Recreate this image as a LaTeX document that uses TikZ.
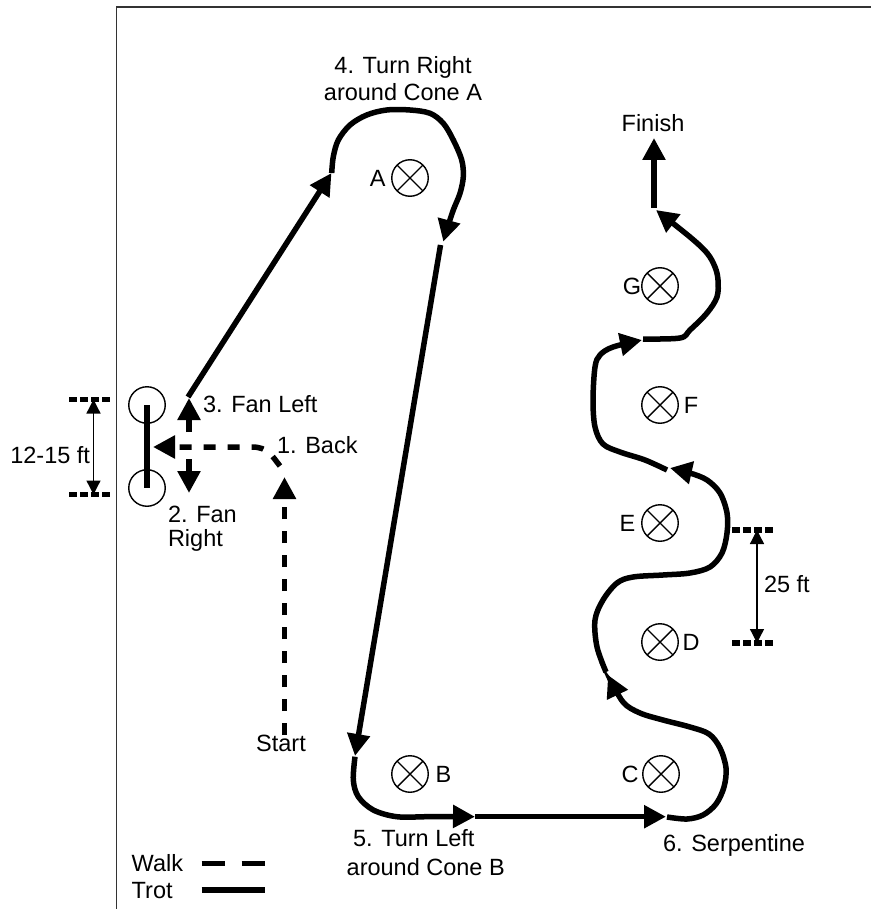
\documentclass[tikz,border=0pt]{standalone}
\usepackage{fontspec}
\setmainfont{Liberation Sans}
\usetikzlibrary{arrows.meta}
\begin{document}
\begin{tikzpicture}[x=1pt,y=-1pt,
  lbl/.style={font=\fontsize{23.5}{27}\selectfont, inner sep=0pt, outer sep=0pt},
  trot/.style={line width=5.5pt},
  walk/.style={line width=5.5pt, dash pattern=on 12pt off 12pt},
  tip/.style={-{Triangle[length=22pt,width=22pt]}},
  dots/.style={line width=5.5pt, dash pattern=on 7.5pt off 3.5pt},
  dim/.style={line width=1.3pt, {Triangle[length=14pt,width=14pt]}-{Triangle[length=14pt,width=14pt]}},
  cone/.style={circle, draw, line width=1.4pt, minimum size=36.5pt, inner sep=0pt,
    path picture={\draw[line width=1.4pt] (path picture bounding box.north west) -- (path picture bounding box.south east)
      (path picture bounding box.north east) -- (path picture bounding box.south west);}},
  pole/.style={circle, draw, line width=1.4pt, minimum size=36.5pt, inner sep=0pt}
]
\useasboundingbox (0,0) rectangle (871,909);
% border
\draw[line width=1.5pt, black!80] (116.5,909) -- (116.5,7) -- (871,7);

% cones
\node[cone] (A) at (410,178) {};
\node[cone] (B) at (410,774) {};
\node[cone] (C) at (661,774) {};
\node[cone] (D) at (660,642) {};
\node[cone] (E) at (660,523) {};
\node[cone] (F) at (660,405) {};
\node[cone] (G) at (660,286) {};
\node[lbl, anchor=base] (lA) at (377.7,186.5) {A};
\node[lbl, anchor=base] (lB) at (443.5,782.5) {B};
\node[lbl, anchor=base] (lC) at (630,782.5) {C};
\node[lbl, anchor=base] (lD) at (691,650.5) {D};
\node[lbl, anchor=base] (lE) at (627.5,531.5) {E};
\node[lbl, anchor=base] (lF) at (691,413.5) {F};
\node[lbl, anchor=base] (lG) at (632,294.5) {G};

% poles
\node[pole] (P1) at (147,405) {};
\node[pole] (P2) at (147,488) {};
\draw[line width=6pt] (P1.center) -- (P2.center);

% dimension 12-15 ft
\draw[dots] (69,399.5) -- (111.5,399.5);
\draw[dots] (69,494.5) -- (111.5,494.5);
\coordinate (d1t) at (93.5,399.5);
\coordinate (d1b) at (93.5,494.5);
\draw[dim] (d1t) -- (d1b);
\node[lbl, anchor=base east] (dim1) at (90,463) {12-15 ft};

% dimension 25 ft
\draw[dots] (732,530) -- (775,530);
\draw[dots] (732,643) -- (775,643);
\coordinate (d2t) at (757,530);
\coordinate (d2b) at (757,643);
\draw[dim] (d2t) -- (d2b);
\node[lbl, anchor=base west] (dim2) at (764,592) {25 ft};

% walk paths
\coordinate (start) at (284.5,735);
\coordinate (startend) at (284.5,477);
\draw[walk, tip] (start) -- (startend);
\draw[walk, tip] (280,466) .. controls (272,456) and (268,447) .. (252,447) -- (153,447);
\draw[walk, tip] (189,459) -- (189,493);
\draw[walk, tip] (189,432) -- (189,398);

% trot paths
\draw[trot, tip] (188,397) -- (331.5,173);
\draw[trot, tip] plot[smooth, tension=0.55] coordinates {(331.7,173) (333.3,156.7) (338.3,140) (350,125) (366.7,115) (386.7,110) (410,110) (430,113.3) (443.3,123.3) (453.3,140) (461.7,160) (463.3,176.7) (460,193.3) (453.3,210) (446.7,230) (443.3,241.7)};
\draw[trot, tip] (440.5,245) -- (355,756);
\draw[trot, tip] plot[smooth, tension=0.55] coordinates {(355,756.7) (353.3,780) (358.3,796.7) (373.3,810) (396.7,816.7) (426.7,816.7) (450,816.5) (475,816.7)};
\draw[trot, tip] (475,816.7) -- (666,816.7);
\draw[trot, tip] plot[smooth, tension=0.55] coordinates {(667,817) (687,819) (703,815) (716,804) (724,787) (726,768) (720,748) (709,734) (690,727) (663,720) (640,713) (623,702) (608,675)};
\draw[trot, tip] plot[smooth, tension=0.55] coordinates {(606,672) (597,647) (595,620) (603,600) (617,583) (633,577) (663,575) (690,573) (710,567) (722,553) (727,533) (727,513) (720,493) (707,480) (690,473) (670,468)};
\draw[trot, tip] plot[smooth, tension=0.55] coordinates {(667,470) (645,460) (620,452) (603,444) (595,427) (593,400) (595,367) (600,355) (613,347) (642,340)};
\draw[trot, tip] plot[smooth, tension=0.55] coordinates {(643,339) (680,338) (690,330) (707,313) (717,297) (718,280) (715,267) (707,253) (690,237) (656,210)};
\draw[trot, tip] (654,208) -- (654,138);

% labels
\node[lbl, anchor=base] (t4a) at (403,73.5) {4. Turn Right};
\node[lbl, anchor=base] (t4b) at (403,100.5) {around Cone A};
\node[lbl, anchor=base] (fin) at (653,131.7) {Finish};
\node[lbl, anchor=base west] (t3) at (203,412.7) {3. Fan Left};
\node[lbl, anchor=base west] (t1) at (277,453) {1. Back};
\node[lbl, anchor=base west] (t2a) at (168,522) {2. Fan};
\node[lbl, anchor=base west] (t2b) at (168,546) {Right};
\node[lbl, anchor=base] (st) at (281,751.7) {Start};
\node[lbl, anchor=base west] (t5a) at (353,846.7) {5. Turn Left};
\node[lbl, anchor=base west] (t5b) at (346.7,875) {around Cone B};
\node[lbl, anchor=base west] (t6) at (663,851.7) {6. Serpentine};

% legend
\node[lbl, anchor=base west] (walk) at (131.7,871.7) {Walk};
\node[lbl, anchor=base west] (trot) at (131.7,898) {Trot};
\draw[line width=5.5pt, dash pattern=on 23pt off 17pt] (201.7,863.3) -- (265.7,863.3);
\draw[trot] (201.7,890) -- (265,890);
\end{tikzpicture}
\end{document}
